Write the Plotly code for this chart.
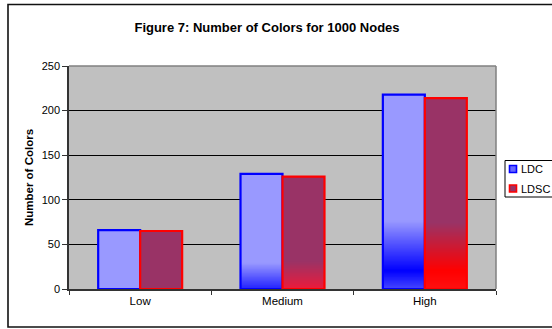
import plotly.graph_objects as go

# --- data -------------------------------------------------------------
categories = ["Low", "Medium", "High"]
ldc_colors = [66, 129, 218]
ldsc_colors = [65, 126, 214]
series_names = ["LDC", "LDSC"]
y_ticks = [0, 50, 100, 150, 200, 250]

# --- styling ----------------------------------------------------------
FONT = "Liberation Sans, Arial, sans-serif"
BAR_W = 0.295
light_fill = {"LDC": "#9999FF", "LDSC": "#993366"}
edge_col = {"LDC": "#0000FF", "LDSC": "#FF0000"}
key_fill = {"LDC": "#6666FF", "LDSC": "#993366"}
# shading near the base of each bar: (value, colour) stops per category
shade_stops = {
    "LDC": [
        [],
        [(0, "#2020FF"), (30, "#9999FF")],
        [(0, "#4848FF"), (21, "#0000FF"), (77, "#9999FF")],
    ],
    "LDSC": [
        [],
        [(0, "#EE1A3A"), (32, "#993366")],
        [(0, "#FF1010"), (21, "#FF0000"), (75, "#993366")],
    ],
}


def hex_rgb(h):
    h = h.lstrip("#")
    return tuple(int(h[i:i + 2], 16) for i in (0, 2, 4))


def colour_at(stops, v):
    for (v0, c0), (v1, c1) in zip(stops[:-1], stops[1:]):
        if v0 <= v <= v1:
            t = (v - v0) / (v1 - v0) if v1 > v0 else 0
            a, b = hex_rgb(c0), hex_rgb(c1)
            r = [round(a[i] + (b[i] - a[i]) * t) for i in range(3)]
            return "rgb(%d,%d,%d)" % tuple(r)
    return stops[-1][1]


def shading(values, stops_list, step=0.5):
    xs, bases, hs, cols = [], [], [], []
    for cat, val, stops in zip(categories, values, stops_list):
        if not stops:
            continue
        top = min(stops[-1][0], val)
        v = 0.0
        while v < top:
            h = min(step * 1.8, top - v)
            xs.append(cat)
            bases.append(v)
            hs.append(h)
            cols.append(colour_at(stops, v + step / 2))
            v += step
    return xs, bases, hs, cols


fig = go.Figure()
for name, vals, off in [("LDC", ldc_colors, -BAR_W), ("LDSC", ldsc_colors, 0.0)]:
    common = dict(offset=off, width=BAR_W, hoverinfo="skip", showlegend=False)
    # flat body colour
    fig.add_trace(go.Bar(x=categories, y=vals, marker=dict(color=light_fill[name], line=dict(width=0)), **common))
    # graded band at the base
    xs, bases, hs, cols = shading(vals, shade_stops[name])
    fig.add_trace(go.Bar(x=xs, y=hs, base=bases, marker=dict(color=cols, line=dict(width=0)), **common))
    # outline
    fig.add_trace(go.Bar(x=categories, y=vals, name=name,
                         marker=dict(color="rgba(0,0,0,0)", line=dict(color=edge_col[name], width=2.2)),
                         **common))

L, R, T, B = 69, 56, 66, 40
W, H = 552, 329
pw, ph = W - L - R, H - T - B


def px_x(p):
    return (p - L) / pw


def px_y(p):
    return (H - B - p) / ph


shapes = [
    # plot area frame (top and right edges)
    dict(type="line", xref="paper", yref="paper", x0=0, x1=1, y0=1, y1=1,
         line=dict(color="#808080", width=1.5), layer="above"),
    dict(type="line", xref="paper", yref="paper", x0=1, x1=1, y0=0, y1=1,
         line=dict(color="#808080", width=1.5), layer="above"),
    # chart frame
    dict(type="rect", xref="paper", yref="paper", x0=px_x(8), x1=px_x(W + 10), y0=px_y(327), y1=px_y(4.5),
         line=dict(color="#111111", width=1.6), fillcolor="rgba(0,0,0,0)", layer="below"),
    # key box
    dict(type="rect", xref="paper", yref="paper", x0=px_x(505), x1=px_x(W + 10), y0=px_y(197), y1=px_y(160.5),
         line=dict(color="#000000", width=1), fillcolor="white", layer="above"),
]
annotations = []
for i, name in enumerate(series_names):
    cy = 169 + i * 19.5
    shapes.append(dict(type="rect", xref="paper", yref="paper",
                       x0=px_x(509.5), x1=px_x(516.5), y0=px_y(cy + 3.5), y1=px_y(cy - 3.5),
                       line=dict(color=edge_col[name], width=1.6), fillcolor=key_fill[name], layer="above"))
    annotations.append(dict(text=name, xref="paper", yref="paper", x=px_x(518.5), y=px_y(cy),
                            xanchor="left", yanchor="middle", showarrow=False,
                            font=dict(family=FONT, size=11, color="black")))

fig.update_layout(
    width=W, height=H,
    margin=dict(l=L, r=R, t=T, b=B, pad=0, autoexpand=False),
    paper_bgcolor="white",
    plot_bgcolor="#C0C0C0",
    barmode="overlay",
    showlegend=False,
    font=dict(family=FONT, color="black", size=11),
    title=dict(text="<b>Figure 7: Number of Colors for 1000 Nodes</b>", x=267 / W, xref="container",
               xanchor="center", y=1 - 27 / H, yref="container", yanchor="middle",
               font=dict(family=FONT, size=13, color="black")),
    xaxis=dict(type="category", categoryorder="array", categoryarray=categories,
               showline=True, linecolor="#333333", linewidth=1.5, showgrid=False,
               ticks="outside", ticklen=4, tickcolor="#333333", tickwidth=1, tickson="boundaries",
               tickfont=dict(size=11.5), fixedrange=True),
    yaxis=dict(range=[0, 250], tickvals=y_ticks, showline=True, linecolor="#333333", linewidth=1.5,
               showgrid=True, gridcolor="#000000", gridwidth=1, zeroline=False,
               ticks="outside", ticklen=5, tickcolor="#333333", tickwidth=1,
               tickfont=dict(size=11),
               title=dict(text="<b>Number of Colors</b>", font=dict(size=11.5), standoff=6),
               fixedrange=True),
    shapes=shapes,
    annotations=annotations,
)

fig.write_html("out.html")
